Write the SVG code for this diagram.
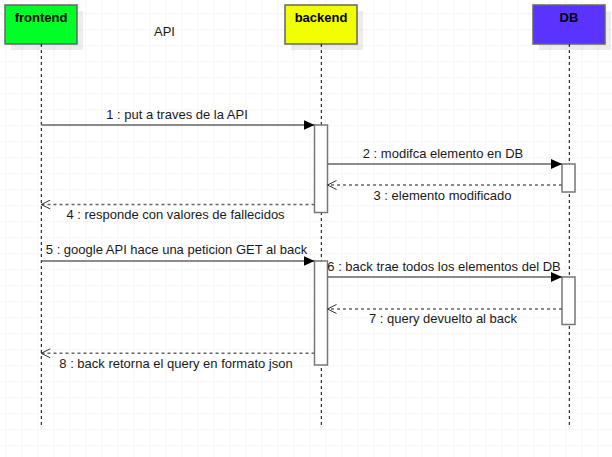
<svg xmlns="http://www.w3.org/2000/svg" width="612" height="457" viewBox="0 0 612 457">
<defs>
<pattern id="grid" x="5.3" y="13.3" width="16" height="16" patternUnits="userSpaceOnUse">
<path d="M0 0H16M0 0V16" fill="none" stroke="#ebebeb" stroke-width="1"/>
</pattern>
<marker id="fill" markerWidth="12" markerHeight="10" refX="11" refY="5" orient="auto" markerUnits="userSpaceOnUse">
<path d="M0 0L11 5L0 10Z" fill="#000"/>
</marker>
<marker id="open" markerWidth="12" markerHeight="10" refX="9.5" refY="5" orient="auto" markerUnits="userSpaceOnUse">
<path d="M0.5 0.5L9.5 5L0.5 9.5" fill="none" stroke="#333" stroke-width="1"/>
</marker>
</defs>
<style>
.box{stroke:#666;stroke-width:1.5}
.shadow{fill:#000;opacity:0.07}
.title{font-family:"Liberation Sans",Arial,sans-serif;font-size:13px;font-weight:bold;fill:#000;text-anchor:middle}
.lbl{font-family:"Liberation Sans",Arial,sans-serif;font-size:13px;fill:#1a1a1a;text-anchor:middle}
.life{stroke:#000;stroke-width:1;stroke-dasharray:3 3;fill:none}
.act{fill:#fff;stroke:#777;stroke-width:1.5}
.msg{stroke:#666;stroke-width:1.5;fill:none;marker-end:url(#fill)}
.ret{stroke:#666;stroke-width:1.5;fill:none;stroke-dasharray:3 3;marker-end:url(#open)}
</style>
<rect width="612" height="457" fill="#fff"/>
<rect width="612" height="457" fill="url(#grid)"/>
<text class="lbl" x="164.5" y="36">API</text>
<g id="frontend">
<rect class="shadow" x="11" y="11" width="72" height="39"/>
<rect class="box" x="5" y="5" width="72" height="39" fill="#00ff26"/>
<text class="title" x="41" y="21.5">frontend</text>
<line class="life" x1="41.3" y1="44" x2="41.3" y2="426"/>
</g>
<g id="backend">
<rect class="shadow" x="291" y="11" width="72" height="39"/>
<rect class="box" x="285" y="5" width="72" height="39" fill="#f2ff00"/>
<text class="title" x="321" y="21.5">backend</text>
<line class="life" x1="321.3" y1="44" x2="321.3" y2="426"/>
<rect class="act" x="314.5" y="125" width="13" height="87.5"/>
<rect class="act" x="314.5" y="261" width="13" height="104"/>
</g>
<g id="DB">
<rect class="shadow" x="539" y="11" width="72" height="39"/>
<rect class="box" x="533" y="5" width="72" height="39" fill="#5b33ff"/>
<text class="title" x="569" y="21.5">DB</text>
<line class="life" x1="569.3" y1="44" x2="569.3" y2="426"/>
<rect class="act" x="562" y="164" width="13" height="28"/>
<rect class="act" x="562" y="277" width="13" height="47.5"/>
</g>
<g id="connectors">
<line class="msg" x1="41.3" y1="125" x2="314.5" y2="125"/>
<text class="lbl" x="177" y="119">1 : put a traves de la API</text>
<line class="msg" x1="327.5" y1="164" x2="562" y2="164"/>
<text class="lbl" x="443" y="157.5">2 : modifca elemento en DB</text>
<line class="ret" x1="562" y1="185" x2="327.5" y2="185"/>
<text class="lbl" x="442.5" y="199.5">3 : elemento modificado</text>
<line class="ret" x1="314.5" y1="204.5" x2="41.3" y2="204.5"/>
<text class="lbl" x="175.5" y="218.5">4 : responde con valores de fallecidos</text>
<line class="msg" x1="41.3" y1="261" x2="314.5" y2="261"/>
<text class="lbl" x="176.5" y="254">5 : google API hace una peticion GET al back</text>
<line class="msg" x1="327.5" y1="277" x2="562" y2="277"/>
<text class="lbl" x="444" y="270.5">6 : back trae todos los elementos del DB</text>
<line class="ret" x1="562" y1="309" x2="327.5" y2="309"/>
<text class="lbl" x="443" y="323">7 : query devuelto al back</text>
<line class="ret" x1="314.5" y1="353.3" x2="41.3" y2="353.3"/>
<text class="lbl" x="176" y="367.5">8 : back retorna el query en formato json</text>
</g>
</svg>
